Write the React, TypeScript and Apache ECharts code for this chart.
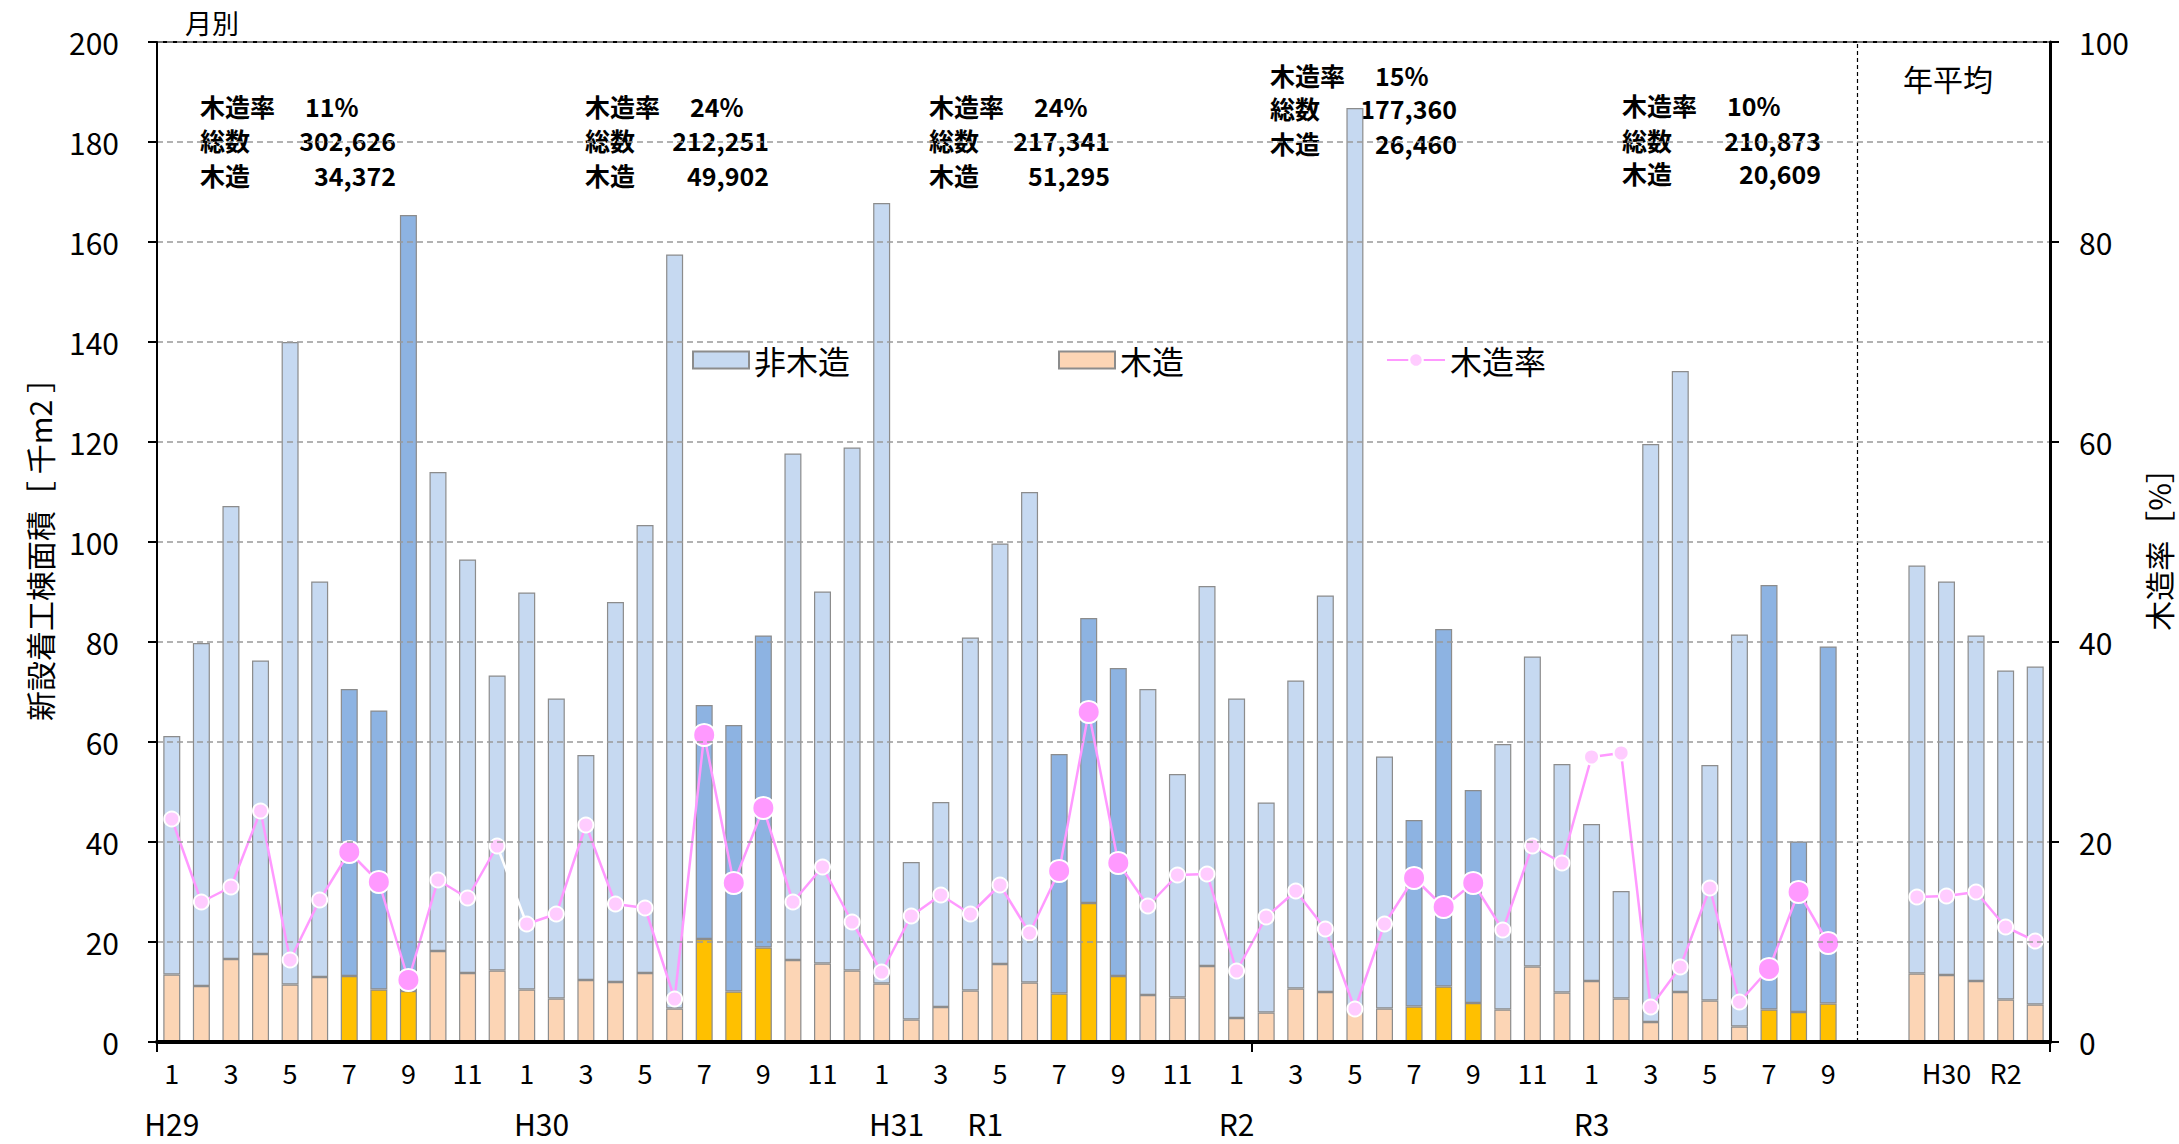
import React, { useEffect, useRef } from 'react';
import * as echarts from 'echarts';

const FONT = "'Noto Sans CJK JP', 'Noto Sans', sans-serif";

// Monthly categories (H29.1 – R3.9)
const monthLabels = [
  '1', '2', '3', '4', '5', '6', '7', '8', '9', '10', '11', '12',
  '1', '2', '3', '4', '5', '6', '7', '8', '9', '10', '11', '12',
  '1', '2', '3', '4', '5', '6', '7', '8', '9', '10', '11', '12',
  '1', '2', '3', '4', '5', '6', '7', '8', '9', '10', '11', '12',
  '1', '2', '3', '4', '5', '6', '7', '8', '9',
];
const highlightMonths = ['7', '8', '9'];

// 木造 (thousand m2)
const woodMonthly = [
  13.5, 11.2, 16.6, 17.6, 11.5, 13.0, 13.2, 10.5, 10.2, 18.2, 13.8, 14.3,
  10.5, 8.7, 12.4, 12.0, 13.8, 6.7, 20.6, 10.1, 18.9, 16.4, 15.7, 14.3,
  11.7, 4.5, 7.0, 10.3, 15.6, 11.9, 9.7, 27.8, 13.2, 9.4, 8.9, 15.2,
  4.8, 5.9, 10.7, 10.0, 6.2, 6.7, 7.1, 11.1, 7.8, 6.5, 15.1, 9.9,
  12.2, 8.7, 4.0, 10.0, 8.3, 3.1, 6.5, 6.0, 7.7,
];
// 非木造 (thousand m2)
const nonWoodMonthly = [
  47.7, 68.6, 90.6, 58.7, 128.5, 79.1, 57.4, 55.8, 155.2, 95.8, 82.7, 59.0,
  79.4, 60.0, 45.0, 76.0, 89.6, 150.8, 46.8, 53.3, 62.4, 101.3, 74.4, 104.6,
  156.1, 31.5, 41.0, 70.6, 84.1, 98.1, 47.9, 57.0, 61.6, 61.2, 44.7, 76.0,
  63.9, 42.0, 61.6, 79.3, 180.6, 50.4, 37.3, 71.5, 42.6, 53.1, 62.0, 45.7,
  31.4, 21.5, 115.6, 124.2, 47.1, 78.4, 84.9, 34.1, 71.4,
];
// 木造率 (%)
const rateMonthly = [
  22.3, 14.0, 15.5, 23.1, 8.2, 14.2, 19.0, 16.0, 6.2, 16.2, 14.4, 19.6,
  11.8, 12.8, 21.7, 13.8, 13.4, 4.3, 30.7, 15.9, 23.4, 14.0, 17.5, 12.0,
  7.0, 12.6, 14.7, 12.8, 15.7, 10.9, 17.1, 33.0, 17.9, 13.6, 16.7, 16.8,
  7.1, 12.5, 15.1, 11.3, 3.3, 11.8, 16.4, 13.5, 15.9, 11.2, 19.6, 17.9,
  28.5, 28.9, 3.5, 7.5, 15.4, 4.0, 7.3, 15.0, 9.9,
];

// 年平均
const avgLabels = ['H29', 'H30', 'R1', 'R2', 'R3'];
const woodAvg = [13.7, 13.4, 12.2, 8.5, 7.5];
const nonWoodAvg = [81.6, 78.7, 69.1, 65.8, 67.6];
const rateAvg = [14.5, 14.6, 15.0, 11.5, 10.1];
const gapLabels = ['', ''];

// era labels on second row (position in category units)
const eraLabels = ['H29', 'H30', 'H31', 'R1', 'R2', 'R3'];
const eraPositions = [0.5, 13, 25, 28, 36.5, 48.5];

// annual summary texts
const blockRates = ['11%', '24%', '24%', '15%', '10%'];
const blockTotals = ['302,626', '212,251', '217,341', '177,360', '210,873'];
const blockWoods = ['34,372', '49,902', '51,295', '26,460', '20,609'];

const C_NON = '#C6D9F1';
const C_NON_HL = '#8DB3E2';
const C_WOOD = '#FCD5B5';
const C_WOOD_HL = '#FFC000';
const C_LINE = '#FF99FF';
const C_MK = '#FFCCFF';
const C_MK_HL = '#FF99FF';
const C_BORDER = '#8C8C8C';

export default function App() {
  const ref = useRef<HTMLDivElement>(null);

  useEffect(() => {
    if (!ref.current) return;
    const chart = echarts.init(ref.current, null, { renderer: 'svg' });

    const categories = [...monthLabels, ...gapLabels, ...avgLabels];
    const nMonth = monthLabels.length;
    const gap = gapLabels.map(() => '-');
    const isHl = (i: number) => i < nMonth && highlightMonths.includes(monthLabels[i]);

    const woodData = [
      ...woodMonthly.map((v, i) => ({ value: v, itemStyle: { color: isHl(i) ? C_WOOD_HL : C_WOOD } })),
      ...gap,
      ...woodAvg,
    ];
    const nonWoodData = [
      ...nonWoodMonthly.map((v, i) => ({ value: v, itemStyle: { color: isHl(i) ? C_NON_HL : C_NON } })),
      ...gap,
      ...nonWoodAvg,
    ];
    const rateAll: (number | string)[] = [...rateMonthly, ...gap, ...rateAvg];
    const breakAt = 11; // white segment between H29.12 and H30.1
    const lineA = rateAll.map((v, i) => (i <= breakAt ? v : '-'));
    const lineB = rateAll.map((v, i) => (i >= breakAt + 1 ? v : '-'));
    const lineW = rateAll.map((v, i) => (i === breakAt || i === breakAt + 1 ? v : '-'));
    const markers = rateAll.map((v, i) =>
      v === '-'
        ? '-'
        : {
            value: v,
            symbolSize: isHl(i) ? 22 : 15,
            itemStyle: { color: isHl(i) ? C_MK_HL : C_MK },
          }
    );

    const blockX = [200, 585, 929, 1270, 1622];
    const blockRight = [396, 769, 1110, 1457, 1821];
    const blockY = [
      [106, 140, 175],
      [106, 140, 175],
      [106, 140, 175],
      [75, 108, 143],
      [105, 140, 173],
    ];
    const annStyle = { fontSize: 25, fontWeight: 'bold', fontFamily: FONT, fill: '#000', verticalAlign: 'middle' };
    const graphics: any[] = [];
    blockX.forEach((x0, b) => {
      const ys = blockY[b];
      graphics.push(
        { type: 'text', x: x0, y: ys[0], style: { ...annStyle, text: '木造率', align: 'left' } },
        { type: 'text', x: x0 + 105, y: ys[0], style: { ...annStyle, text: blockRates[b], align: 'left' } },
        { type: 'text', x: x0, y: ys[1], style: { ...annStyle, text: '総数', align: 'left' } },
        { type: 'text', x: blockRight[b], y: ys[1], style: { ...annStyle, text: blockTotals[b], align: 'right' } },
        { type: 'text', x: x0, y: ys[2], style: { ...annStyle, text: '木造', align: 'left' } },
        { type: 'text', x: blockRight[b], y: ys[2], style: { ...annStyle, text: blockWoods[b], align: 'right' } }
      );
    });
    graphics.push(
      { type: 'text', x: 185, y: 22, style: { text: '月別', fontSize: 27, fontFamily: FONT, fill: '#000', align: 'left', verticalAlign: 'middle' } },
      { type: 'text', x: 1948, y: 78, style: { text: '年平均', fontSize: 30, fontFamily: FONT, fill: '#000', align: 'center', verticalAlign: 'middle' } },
      { type: 'text', x: 39, y: 542, rotation: Math.PI / 2, style: { text: '新設着工棟面積［ 千m2 ］', fontSize: 30, fontFamily: FONT, fill: '#000', align: 'center', verticalAlign: 'middle' } },
      { type: 'text', x: 2158, y: 542, rotation: Math.PI / 2, style: { text: '木造率［%］', fontSize: 30, fontFamily: FONT, fill: '#000', align: 'center', verticalAlign: 'middle' } }
    );

    const legendText = { fontSize: 32, color: '#000', fontFamily: FONT };

    const option: any = {
      animation: false,
      backgroundColor: '#ffffff',
      textStyle: { fontFamily: FONT },
      grid: {
        left: 157, right: 129, top: 42, bottom: 102,
        show: true, borderColor: '#000', borderWidth: 2, backgroundColor: 'transparent',
      },
      legend: [
        { data: ['非木造'], left: 687, top: 339, icon: 'rect', itemWidth: 56, itemHeight: 17, textStyle: legendText, selectedMode: false },
        { data: ['木造'], left: 1053, top: 339, icon: 'rect', itemWidth: 56, itemHeight: 17, textStyle: legendText, selectedMode: false },
        { data: ['木造率'], left: 1381, top: 339, itemWidth: 58, itemHeight: 17, textStyle: legendText, selectedMode: false },
      ],
      xAxis: [
        {
          type: 'category',
          data: categories,
          boundaryGap: true,
          z: 10,
          axisLine: { show: true, lineStyle: { color: '#000', width: 4 } },
          axisTick: {
            show: true,
            interval: (i: number) => i === 0 || i === 37,
            length: 10,
            lineStyle: { color: '#000', width: 2 },
          },
          axisLabel: { interval: 1, fontSize: 27, color: '#000', margin: 17, fontFamily: FONT },
          splitLine: { show: false },
        },
        {
          type: 'value',
          min: 0,
          max: categories.length,
          interval: 0.5,
          position: 'bottom',
          axisLine: { show: false },
          axisTick: { show: false },
          splitLine: { show: false },
          axisLabel: {
            fontSize: 30,
            color: '#000',
            margin: 66,
            fontFamily: FONT,
            formatter: (v: number) => {
              const k = eraPositions.findIndex((p) => Math.abs(p - v) < 0.01);
              return k >= 0 ? eraLabels[k] : '';
            },
          },
        },
      ],
      yAxis: [
        {
          type: 'value',
          min: 0,
          max: 200,
          interval: 20,
          z: 10,
          axisLine: { show: true, lineStyle: { color: '#000', width: 2 } },
          axisTick: { show: true, length: 9, lineStyle: { color: '#000', width: 2 } },
          axisLabel: { fontSize: 30, color: '#000', margin: 38, fontFamily: FONT },
          splitLine: { show: true, lineStyle: { color: '#999999', type: [6, 4], width: 1.5 } },
        },
        {
          type: 'value',
          min: 0,
          max: 100,
          interval: 20,
          position: 'right',
          z: 10,
          axisLine: { show: true, lineStyle: { color: '#000', width: 3 } },
          axisTick: { show: true, length: 9, lineStyle: { color: '#000', width: 2 } },
          axisLabel: { fontSize: 30, color: '#000', margin: 29, fontFamily: FONT },
          splitLine: { show: false },
        },
      ],
      series: [
        {
          name: '木造',
          type: 'bar',
          stack: 'area',
          barWidth: 17,
          data: woodData,
          itemStyle: { color: C_WOOD, borderColor: C_BORDER, borderWidth: 1.2 },
          z: 2,
        },
        {
          name: '非木造',
          type: 'bar',
          stack: 'area',
          barWidth: 17,
          data: nonWoodData,
          itemStyle: { color: C_NON, borderColor: C_BORDER, borderWidth: 1.2 },
          z: 2,
          markLine: {
            silent: true,
            symbol: ['none', 'none'],
            label: { show: false },
            lineStyle: { color: '#000', type: [4, 3], width: 1.2 },
            data: [{ xAxis: nMonth }],
          },
        },
        {
          name: '木造率',
          type: 'line',
          yAxisIndex: 1,
          data: lineA,
          symbol: 'circle',
          showSymbol: false,
          lineStyle: { color: C_LINE, width: 2.5 },
          itemStyle: { color: C_MK, borderColor: '#ffffff', borderWidth: 1.5 },
          z: 3,
        },
        {
          name: '木造率b',
          type: 'line',
          yAxisIndex: 1,
          data: lineB,
          symbol: 'none',
          lineStyle: { color: C_LINE, width: 2.5 },
          itemStyle: { color: C_LINE },
          z: 3,
        },
        {
          name: '木造率w',
          type: 'line',
          yAxisIndex: 1,
          data: lineW,
          symbol: 'none',
          lineStyle: { color: '#ffffff', width: 2.5 },
          itemStyle: { color: '#ffffff' },
          z: 3,
        },
        {
          name: '木造率m',
          type: 'scatter',
          yAxisIndex: 1,
          data: markers,
          symbol: 'circle',
          itemStyle: { borderColor: '#ffffff', borderWidth: 2, opacity: 1 },
          z: 4,
        },
      ],
      graphic: graphics,
    };

    chart.setOption(option);
    return () => chart.dispose();
  }, []);

  return (
    <div
      ref={ref}
      style={{ position: 'fixed', left: 0, top: 0, width: 2179, height: 1144, background: '#fff' }}
    />
  );
}
